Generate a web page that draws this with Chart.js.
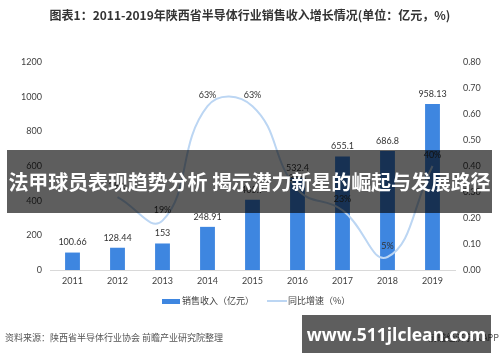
<!DOCTYPE html>
<html><head><meta charset="utf-8">
<script src="https://cdn.jsdelivr.net/npm/chart.js@4.4.1/dist/chart.umd.min.js"></script>
<style>
html,body{margin:0;padding:0;background:#fff;}
#wrap{position:relative;width:500px;height:362px;overflow:hidden;font-family:"Noto Sans CJK SC",sans-serif;}
#c{position:absolute;left:0;top:0;}
.title{position:absolute;left:0;width:500px;top:6px;text-align:center;font-weight:bold;font-size:12px;color:#333;line-height:18px;}
.legend{position:absolute;top:294px;left:0;width:500px;font-size:9px;color:#404040;line-height:14px;}
.legend span{position:absolute;top:0;white-space:nowrap;}
.src{position:absolute;left:5px;top:330px;font-size:9px;color:#555;line-height:16px;white-space:nowrap;}
.src2{position:absolute;right:1px;top:330px;font-size:9px;color:#555;line-height:16px;white-space:nowrap;}
.banner{position:absolute;left:7px;top:150px;width:485px;height:63px;background:rgba(0,0,0,0.63);color:#fff;font-weight:bold;font-size:20px;line-height:63px;text-align:center;white-space:nowrap;letter-spacing:-0.1px;}
.wm{position:absolute;left:302px;top:315px;width:189px;height:38px;background:rgba(0,0,0,0.63);color:#fff;font-weight:bold;font-size:17.5px;line-height:38px;text-align:center;font-family:"Open Sans","DejaVu Sans",sans-serif;white-space:nowrap;}
</style></head>
<body>
<div id="wrap">
<canvas id="c" width="500" height="362"></canvas>
<div class="title">图表1：2011-2019年陕西省半导体行业销售收入增长情况(单位：亿元，%)</div>
<div class="legend">
  <span style="left:162px;top:5px;width:18px;height:5px;background:#3e86e0;"></span>
  <span style="left:182px;">销售收入（亿元）</span>
  <span style="left:267px;top:6px;width:20px;height:2px;background:#bcd6f3;"></span>
  <span style="left:288px;">同比增速（%）</span>
</div>
<div class="src">资料来源：陕西省半导体行业协会 前瞻产业研究院整理</div>
<div class="src2">前瞻经济学人APP</div>
<div class="banner">法甲球员表现趋势分析 揭示潜力新星的崛起与发展路径</div>
<div class="wm">www.511jlclean.com</div>
</div>
<script>
const years = ['2011','2012','2013','2014','2015','2016','2017','2018','2019'];
const sales = [100.66,128.44,153,248.91,405.7,532.4,655.1,686.8,958.13];
const salesLabels = ['100.66','128.44','153','248.91','405.7','532.4','655.1','686.8','958.13'];
const growth = [null,0.28,0.19,0.63,0.63,0.31,0.23,0.05,0.40];
const growthLabels = ['','28%','19%','63%','63%','31%','23%','5%','40%'];
const leftTicks = [0,200,400,600,800,1000,1200];
const rightTicks = [0,0.1,0.2,0.3,0.4,0.5,0.6,0.7,0.8];

Chart.defaults.font.family = "Lato, 'Noto Sans CJK SC', sans-serif";
Chart.defaults.font.size = 9;
Chart.defaults.color = '#404040';

const labelPlugin = {
  id:'labels',
  afterDatasetsDraw(chart){
    const ctx = chart.ctx;
    ctx.save();
    ctx.font = "9px Lato, 'Noto Sans CJK SC', sans-serif";
    ctx.fillStyle = '#333';
    ctx.textAlign = 'center';
    ctx.textBaseline = 'middle';
    chart.getDatasetMeta(0).data.forEach((el,i)=>{
      ctx.fillText(salesLabels[i], el.x, el.y - 10);
    });
    chart.getDatasetMeta(1).data.forEach((el,i)=>{
      if (growth[i] === null) return;
      ctx.fillText(growthLabels[i], el.x, el.y - 11);
    });
    ctx.restore();
  }
};

new Chart(document.getElementById('c'), {
  data:{
    labels: years,
    datasets:[
      {type:'bar', label:'销售收入（亿元）', data:sales, backgroundColor:'#3e86e0', yAxisID:'y', categoryPercentage:1, barPercentage:0.33, order:1},
      {type:'line', label:'同比增速（%）', data:growth, borderColor:'#bcd6f3', borderWidth:2, pointRadius:0, tension:0.45, yAxisID:'y1', order:0, spanGaps:false}
    ]
  },
  options:{
    responsive:false, animation:false,
    layout:{padding:{top:62,bottom:0,left:0,right:0}},
    plugins:{legend:{display:false}, tooltip:{enabled:false}, title:{display:false}},
    scales:{
      x:{
        grid:{display:false, drawTicks:false},
        border:{display:true, color:'#d9d9d9', width:1},
        ticks:{padding:6, color:'#404040', font:{size:9}},
        afterFit(s){ s.height = 92; }
      },
      y:{
        position:'left', min:0, max:1200,
        grid:{display:false, drawTicks:false},
        border:{display:false},
        ticks:{stepSize:200, padding:8, color:'#404040', font:{size:9}, callback:(v)=>String(v)},
        afterFit(s){ s.width = 50; }
      },
      y1:{
        position:'right', min:0, max:0.8,
        grid:{display:false, drawTicks:false},
        border:{display:false},
        ticks:{stepSize:0.1, padding:8, color:'#404040', font:{size:9}, callback:(v)=>Number(v).toFixed(2)},
        afterFit(s){ s.width = 45; }
      }
    }
  },
  plugins:[labelPlugin]
});
</script>
</body></html>
